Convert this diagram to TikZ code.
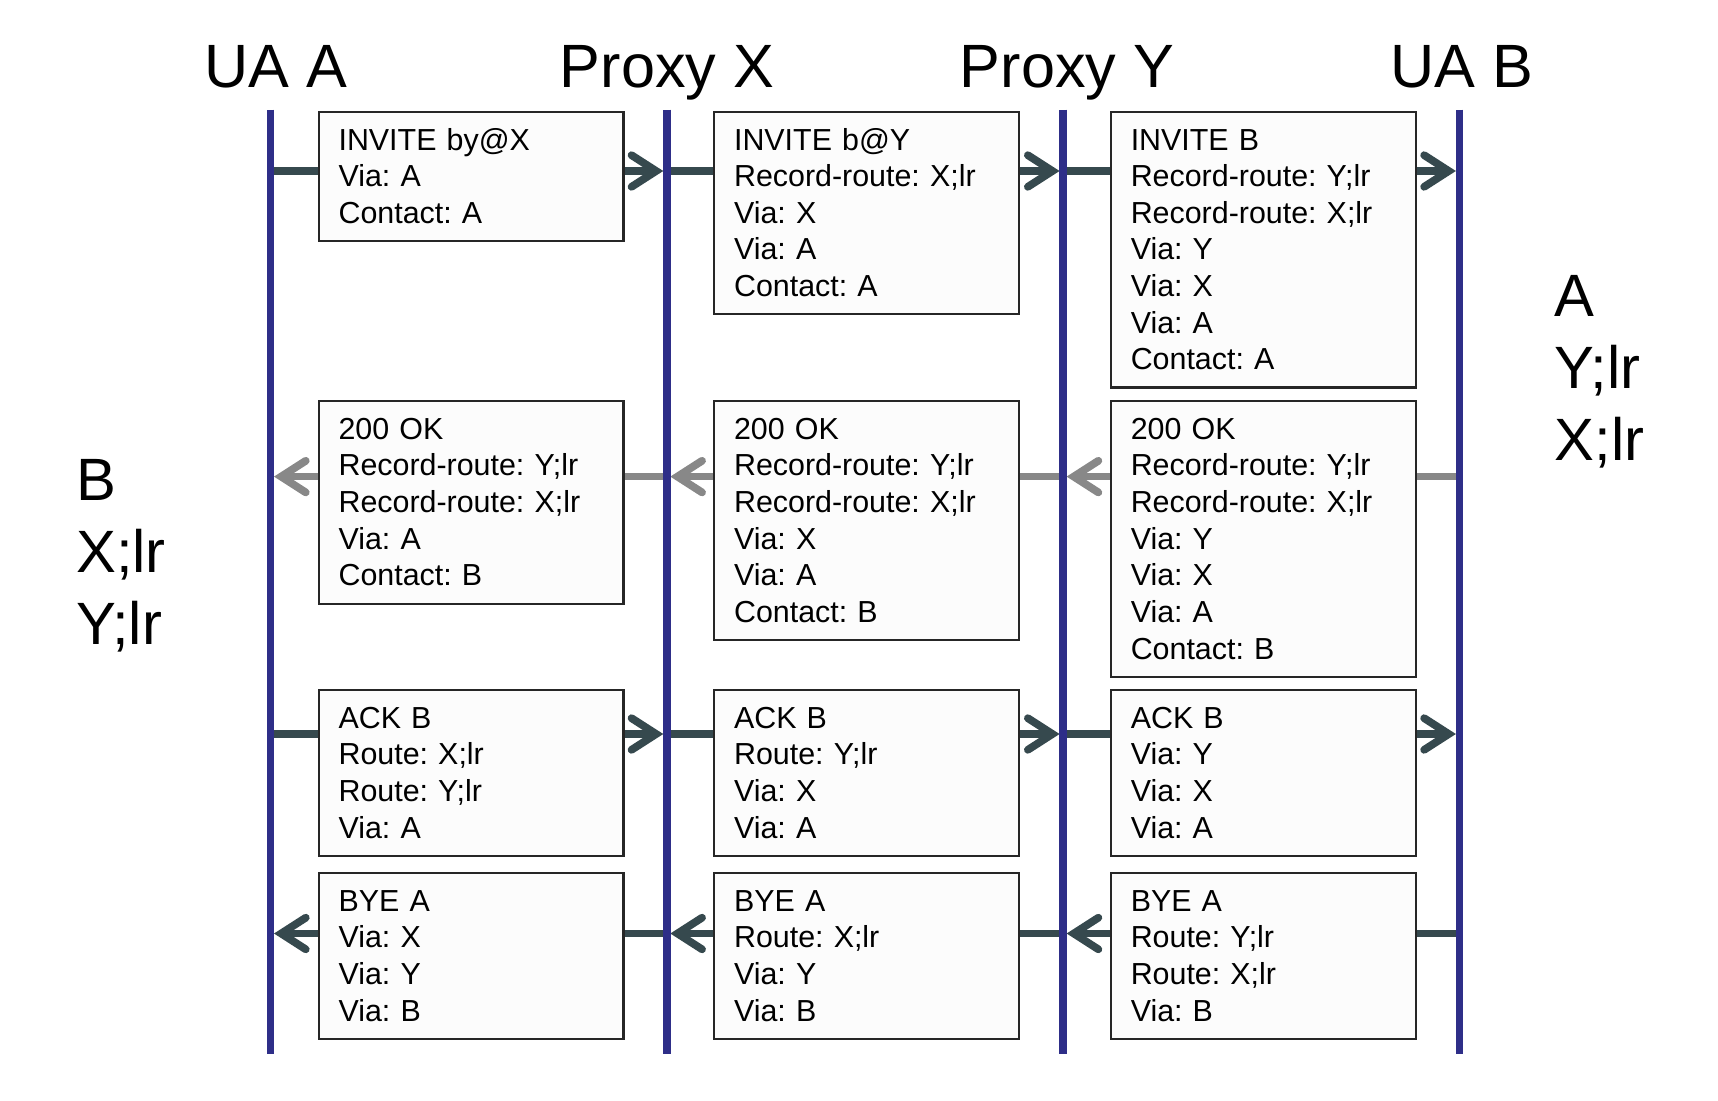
\documentclass[tikz,border=0pt]{standalone}
\usepackage{fontspec}
\setmainfont{Liberation Sans}
\usepackage{xcolor}
\usepackage{tikz}
\usetikzlibrary{arrows.meta, positioning, calc}
\frenchspacing

\definecolor{lifeblue}{HTML}{2E2E88}
\definecolor{slate}{HTML}{36494E}
\definecolor{ackgrey}{HTML}{888888}
\definecolor{boxfill}{HTML}{FCFCFC}

\begin{document}
\begin{tikzpicture}[
    msgbox/.style={rectangle, draw=black!85, line width=0.6pt, fill=boxfill, anchor=north west,
        text width=2.652cm, inner xsep=0.197cm, inner ysep=1pt, align=left,
        font=\fontsize{8.65}{10.42}\selectfont,
        execute at begin node={\rule{0pt}{9.9pt}},
        execute at end node={\rule[-4.05pt]{0pt}{4.05pt}}},
    party/.style={anchor=base, font=\fontsize{17.4}{20}\selectfont},
    side/.style={anchor=north west, align=left, inner sep=0pt, font=\fontsize{17}{20.5}\selectfont},
    life/.style={draw=lifeblue, line width=2.2pt},
    fwd/.style={draw=slate, line width=2.2pt, shorten >=1pt, -{Straight Barb[length=7pt, width=9pt, line cap=round]}},
    okmsg/.style={fwd, draw=ackgrey}
]
    \useasboundingbox (0,0) rectangle (17.18,-11.0);

    % Parties
    \node (uaA) [party] at (2.76,-0.875) {UA A};
    \node (prX) [party] at (6.67,-0.875) {Proxy X};
    \node (prY) [party] at (10.67,-0.875) {Proxy Y};
    \node (uaB) [party] at (14.616,-0.875) {UA B};

    % Lifeline tops and bottoms
    \coordinate (lA) at (2.705,-1.096);   \coordinate (eA) at (2.705,-10.54);
    \coordinate (lX) at (6.668,-1.096);   \coordinate (eX) at (6.668,-10.54);
    \coordinate (lY) at (10.631,-1.096);  \coordinate (eY) at (10.631,-10.54);
    \coordinate (lB) at (14.594,-1.096);  \coordinate (eB) at (14.594,-10.54);

    % Message rows
    \coordinate (r1) at (0,-1.71);
    \coordinate (r2) at (0,-4.766);
    \coordinate (r3) at (0,-7.34);
    \coordinate (r4) at (0,-9.335);

    % Flows
    \draw [fwd] (lA |- r1) -- (lX |- r1);
    \draw [fwd] (lX |- r1) -- (lY |- r1);
    \draw [fwd] (lY |- r1) -- (lB |- r1);

    \draw [okmsg] (lB |- r2) -- (lY |- r2);
    \draw [okmsg] (lY |- r2) -- (lX |- r2);
    \draw [okmsg] (lX |- r2) -- (lA |- r2);

    \draw [fwd] (lA |- r3) -- (lX |- r3);
    \draw [fwd] (lX |- r3) -- (lY |- r3);
    \draw [fwd] (lY |- r3) -- (lB |- r3);

    \draw [fwd] (lB |- r4) -- (lY |- r4);
    \draw [fwd] (lY |- r4) -- (lX |- r4);
    \draw [fwd] (lX |- r4) -- (lA |- r4);

    % Lifelines
    \draw [life] (lA) -- (eA);
    \draw [life] (lX) -- (eX);
    \draw [life] (lY) -- (eY);
    \draw [life] (lB) -- (eB);

    % INVITE
    \node (inv1) [msgbox] at (3.178,-1.107) {INVITE by@X\\Via: A\\Contact: A};
    \node (inv2) [msgbox] at (7.133,-1.107) {INVITE b@Y\\Record-route: X;lr\\Via: X\\Via: A\\Contact: A};
    \node (inv3) [msgbox] at (11.10,-1.107) {INVITE B\\Record-route: Y;lr\\Record-route: X;lr\\Via: Y\\Via: X\\Via: A\\Contact: A};

    % 200 OK
    \node (ok1) [msgbox] at (3.178,-4.00) {200 OK\\Record-route: Y;lr\\Record-route: X;lr\\Via: A\\Contact: B};
    \node (ok2) [msgbox] at (7.133,-4.00) {200 OK\\Record-route: Y;lr\\Record-route: X;lr\\Via: X\\Via: A\\Contact: B};
    \node (ok3) [msgbox] at (11.10,-4.00) {200 OK\\Record-route: Y;lr\\Record-route: X;lr\\Via: Y\\Via: X\\Via: A\\Contact: B};

    % ACK
    \node (ack1) [msgbox] at (3.178,-6.89) {ACK B\\Route: X;lr\\Route: Y;lr\\Via: A};
    \node (ack2) [msgbox] at (7.133,-6.89) {ACK B\\Route: Y;lr\\Via: X\\Via: A};
    \node (ack3) [msgbox] at (11.10,-6.89) {ACK B\\Via: Y\\Via: X\\Via: A};

    % BYE
    \node (bye1) [msgbox] at (3.178,-8.72) {BYE A\\Via: X\\Via: Y\\Via: B};
    \node (bye2) [msgbox] at (7.133,-8.72) {BYE A\\Route: X;lr\\Via: Y\\Via: B};
    \node (bye3) [msgbox] at (11.10,-8.72) {BYE A\\Route: Y;lr\\Route: X;lr\\Via: B};

    % Route sets
    \node (setA) [side] at (0.755,-4.583) {B\\X;lr\\Y;lr};
    \node (setB) [side] at (15.54,-2.75) {A\\Y;lr\\X;lr};

\end{tikzpicture}
\end{document}
